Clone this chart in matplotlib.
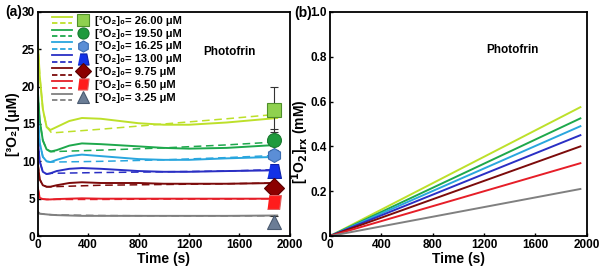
import numpy as np
import matplotlib
matplotlib.use('Agg')
import matplotlib.pyplot as plt
from matplotlib.lines import Line2D
from matplotlib.legend_handler import HandlerBase

plt.rcParams['font.family'] = ['Liberation Sans', 'DejaVu Sans']
plt.rcParams['font.weight'] = 'bold'
plt.rcParams['mathtext.default'] = 'bf'

# 初始浓度与颜色
conc = ['26.00', '19.50', '16.25', '13.00', '9.75', '6.50', '3.25']
line_colors = ['#bde02a', '#1ea84c', '#29a6de', '#2a2fc4', '#7c0b0b', '#e61e28', '#808080']
marker_faces = ['#8fd14f', '#1e9a3c', '#5b8ed6', '#1232e6', '#8b0000', '#ff1c1c', '#6b7d96']
marker_edges = ['#4f8f2a', '#1a7a30', '#3a6cb0', '#0d22a8', '#5a0000', '#e06060', '#4a5a70']
trap = [(-1, -1), (1, -1), (0.6, 1), (-0.6, 1)]
para = [(-1, -1), (0.75, -1), (1, 1), (-0.75, 1)]
markers = ['s', 'o', 'h', trap, 'D', para, '^']

# (a) 模拟曲线(实线)
t_solid = [0, 15, 40, 70, 100, 150, 250, 350, 500, 800, 1000, 1200, 1500, 1900]
o2_solid = [
    [26.0, 21.5, 17.0, 14.6, 14.2, 14.6, 15.4, 15.8, 15.7, 15.1, 14.9, 14.9, 15.2, 15.8],
    [19.5, 15.5, 12.8, 11.6, 11.3, 11.5, 12.1, 12.4, 12.3, 12.0, 11.8, 11.7, 11.8, 12.2],
    [16.25, 12.5, 10.6, 10.0, 9.9, 10.2, 10.7, 10.9, 10.7, 10.3, 10.2, 10.2, 10.4, 10.6],
    [13.0, 10.0, 8.6, 8.3, 8.4, 8.7, 9.0, 9.1, 9.0, 8.7, 8.6, 8.6, 8.7, 8.8],
    [9.75, 7.6, 6.8, 6.6, 6.6, 6.8, 7.1, 7.2, 7.1, 7.1, 7.0, 7.0, 7.0, 7.1],
    [6.5, 5.1, 4.95, 4.9, 4.9, 4.95, 5.0, 5.05, 5.0, 5.0, 5.0, 5.0, 5.0, 5.0],
    [3.25, 3.0, 2.95, 2.9, 2.85, 2.8, 2.75, 2.7, 2.7, 2.7, 2.7, 2.7, 2.7, 2.75],
]
# (a) 虚线
t_dash = [0, 15, 40, 70, 110, 500, 1000, 1500, 1900]
o2_dash = [
    [26.0, 21.5, 17.0, 14.6, 13.8, 14.3, 15.0, 15.7, 16.3],
    [19.5, 15.5, 12.8, 11.6, 11.3, 11.5, 11.8, 12.2, 12.6],
    [16.25, 12.5, 10.6, 10.0, 9.9, 10.0, 10.2, 10.5, 10.8],
    [13.0, 10.0, 8.6, 8.3, 8.4, 8.5, 8.6, 8.7, 8.9],
    [9.75, 7.6, 6.8, 6.6, 6.6, 6.8, 6.9, 7.0, 7.1],
    [6.5, 5.1, 4.95, 4.9, 4.9, 4.9, 4.95, 4.95, 5.0],
    [3.25, 3.0, 2.95, 2.9, 2.85, 2.75, 2.7, 2.7, 2.7],
]
# 实验点
t_exp = 1875
o2_exp = [16.9, 12.9, 10.9, 8.7, 6.4, 4.6, 1.9]
o2_err = [3.0, 1.4, 0.6, 0.6, 0.5, 0.9, 0.8]

# (b) 单线态氧累积
t_b = [0, 1950]
singlet_end = [0.575, 0.525, 0.49, 0.45, 0.40, 0.325, 0.21]


class SolidDashMarker(HandlerBase):
    def create_artists(self, legend, orig_handle, xdescent, ydescent,
                       width, height, fontsize, trans):
        solid, dash, mk = orig_handle
        x0 = -xdescent
        y0 = -ydescent
        ll = width * 0.5
        a1 = Line2D([x0, x0 + ll], [y0 + height * 0.85] * 2, color=solid.get_color(),
                    lw=1.3, transform=trans)
        a2 = Line2D([x0, x0 + ll], [y0 + height * 0.15] * 2, color=dash.get_color(),
                    lw=1.3, ls=(0, (3, 1.5)), transform=trans)
        a3 = Line2D([x0 + width * 0.78], [y0 + height * 0.5], marker=mk.get_marker(),
                    ms=8, mfc=mk.get_markerfacecolor(), mec=mk.get_markeredgecolor(),
                    mew=0.8, ls='none', transform=trans)
        return [a1, a2, a3]


fig = plt.figure(figsize=(6, 2.71), dpi=100)
ax1 = fig.add_axes([0.063, 0.129, 0.42, 0.827])
ax2 = fig.add_axes([0.55, 0.129, 0.428, 0.827])

handles = []
labels = []
for i in range(7):
    s, = ax1.plot(t_solid, o2_solid[i], color=line_colors[i], lw=1.4)
    d, = ax1.plot(t_dash, o2_dash[i], color=line_colors[i], lw=1.1, ls=(0, (5, 3)))
    ax1.errorbar([t_exp], [o2_exp[i]], yerr=[o2_err[i]], fmt='none', ecolor='#333333',
                 elinewidth=0.8, capsize=3, capthick=0.8, zorder=3)
    m, = ax1.plot([t_exp], [o2_exp[i]], ls='none', marker=markers[i], ms=10,
                  mfc=marker_faces[i], mec=marker_edges[i], mew=0.8, zorder=4)
    handles.append((s, d, m))
    labels.append('[³O₂]₀= ' + conc[i] + ' μM')

ax1.legend(handles, labels, handler_map={tuple: SolidDashMarker()}, loc='upper left',
           bbox_to_anchor=(0.03, 1.015), frameon=False, fontsize=8, handlelength=3.6,
           handleheight=0.9, handletextpad=0.3, labelspacing=0.22, borderaxespad=0.2)
ax1.set_xlim(0, 2000)
ax1.set_ylim(0, 30)
ax1.set_xticks([0, 400, 800, 1200, 1600, 2000])
ax1.set_yticks([0, 5, 10, 15, 20, 25, 30])
ax1.set_xlabel('Time (s)', fontsize=10, fontweight='bold', labelpad=1)
ax1.set_ylabel('[³O₂] (μM)', fontsize=10, fontweight='bold', labelpad=1)
ax1.text(0.76, 0.82, 'Photofrin', transform=ax1.transAxes, ha='center', va='center',
         fontsize=8.5, fontweight='bold')

for i in range(7):
    ax2.plot(t_b, [0, singlet_end[i]], color=line_colors[i], lw=1.4)
ax2.set_xlim(0, 2000)
ax2.set_ylim(0, 1.0)
ax2.set_xticks([0, 400, 800, 1200, 1600, 2000])
ax2.set_yticks([0, 0.2, 0.4, 0.6, 0.8, 1.0])
ax2.set_yticklabels(['0', '0.2', '0.4', '0.6', '0.8', '1.0'])
ax2.set_xlabel('Time (s)', fontsize=10, fontweight='bold', labelpad=1)
ax2.set_ylabel(r'[$^1$O$_2$]$_{rx}$ (mM)', fontsize=10, fontweight='bold')
ax2.yaxis.set_label_coords(-0.075, 0.42)
ax2.text(0.71, 0.83, 'Photofrin', transform=ax2.transAxes, ha='center', va='center',
         fontsize=8.5, fontweight='bold')

for ax in (ax1, ax2):
    ax.tick_params(direction='in', length=2, width=1, labelsize=8.5, pad=2)
    for sp in ax.spines.values():
        sp.set_linewidth(1.3)
    for lab in ax.get_xticklabels() + ax.get_yticklabels():
        lab.set_fontweight('bold')

fig.text(0.022, 0.955, '(a)', fontsize=10, fontweight='bold', ha='center', va='center')
fig.text(0.505, 0.952, '(b)', fontsize=10, fontweight='bold', ha='center', va='center')

fig.savefig('out.png', dpi=100)
